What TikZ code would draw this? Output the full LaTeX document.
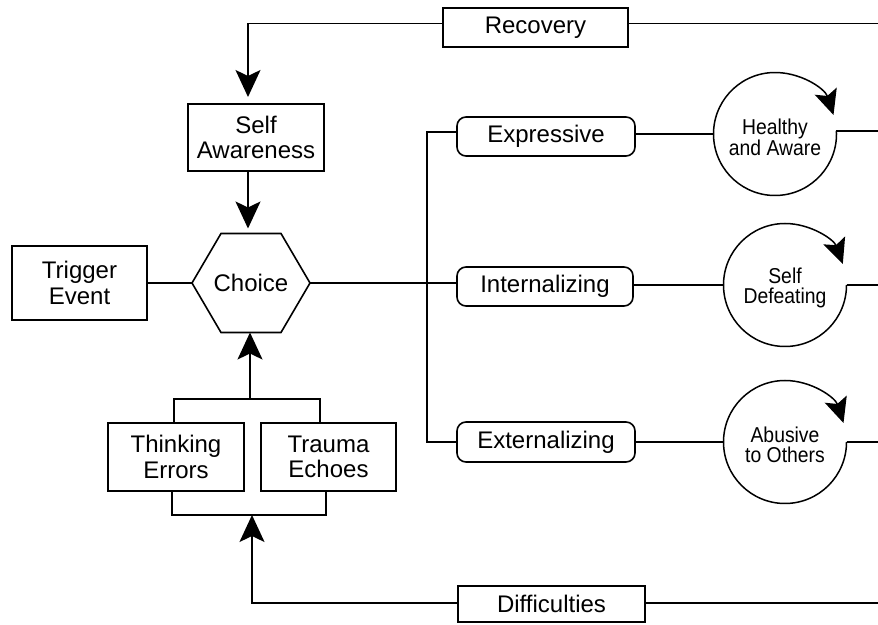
\documentclass[tikz,border=0pt]{standalone}
\usepackage{fontspec}
\setmainfont{Liberation Sans}
\newfontfamily\circlefont[FakeStretch=0.9]{Liberation Sans}
\usetikzlibrary{arrows.meta}

\begin{document}
\begin{tikzpicture}[x=1pt,y=1pt,
  line width=1.5pt,
  box/.style={draw, rectangle, inner sep=0pt, outer sep=0pt, align=center,
    line width=1.6pt, font=\fontsize{24}{25.5}\selectfont},
  rbox/.style={box, rounded corners=9pt},
  loop/.style={circle, inner sep=0pt, outer sep=0pt, minimum size=123},
  looplabel/.style={align=center, font=\circlefont\fontsize{21.5}{19.5}\selectfont},
  bigarrow/.style={-{Stealth[length=27pt,width=25pt,inset=6pt]}},
  smallarrow/.style={-{Stealth[length=25pt,width=23pt,inset=5pt]}},
]
\useasboundingbox (0,0) rectangle (878,624);

% right-hand edge the feedback lines run out to
\coordinate (edge) at (878,0);

% boxes
\node[box, minimum width=185, minimum height=39] (rec) at (535.5,596.5) {Recovery};
\node[box, minimum width=136, minimum height=67] (self) at (256,486.5) {Self\\Awareness};
\node[box, minimum width=135, minimum height=74] (trig) at (79.5,341) {Trigger\\Event};
\node[rbox, minimum width=178, minimum height=39] (expr) at (546,487.5) {Expressive};
\node[rbox, minimum width=176, minimum height=39] (intl) at (545,337.5) {Internalizing};
\node[rbox, minimum width=178, minimum height=40] (extl) at (546,182) {Externalizing};
\node[box, minimum width=136, minimum height=68] (think) at (176,167) {Thinking\\Errors};
\node[box, minimum width=135, minimum height=68] (trauma) at (328.5,167) {Trauma\\Echoes};
\node[box, minimum width=187, minimum height=36] (diff) at (551.5,20) {Difficulties};

% the hexagonal decision node
\node[minimum width=118, minimum height=99, inner sep=0pt, outer sep=0pt,
  font=\fontsize{24}{25.5}\selectfont] (choice) at (251,341) {Choice};
\draw[line width=1.6pt] (choice.west) -- ([xshift=29]choice.north west)
  -- ([xshift=-29]choice.north east) -- (choice.east)
  -- ([xshift=-29]choice.south east) -- ([xshift=29]choice.south west) -- cycle;

% outcome loops
\node[loop] (c1) at (775,490) {};
\node[loop] (c2) at (785,339) {};
\node[loop] (c3) at (785,182) {};
\node[looplabel] at ([yshift=-3]c1) {Healthy\\and Aware};
\node[looplabel] at ([yshift=-3]c2) {Self\\Defeating};
\node[looplabel] at ([yshift=-3]c3) {Abusive\\to Others};
\draw[smallarrow] (c1.3) arc[start angle=3, end angle=-342, radius=61.5];
\draw[smallarrow] (c2.0) arc[start angle=0, end angle=-340, radius=61.5];
\draw[smallarrow] (c3.0) arc[start angle=0, end angle=-342, radius=61.5];

% recovery feedback into self awareness
\draw[bigarrow, shorten >=7pt] ([yshift=4]rec.west) -| ([xshift=-8]self.north);
\draw ([yshift=4]rec.east) -- ([yshift=4]rec.east -| edge);
\draw[bigarrow, shorten >=5pt] ([xshift=-8]self.south) -- ([xshift=-8]self.south |- choice.north);

% trigger and choice
\draw (trig.east) -- (choice.west);
\draw (choice.east) -- (intl.west |- choice.east);

% branch bus
\coordinate (bustop) at (427,492);
\coordinate (busbot) at (427,182);
\draw (expr.west |- bustop) -- (bustop) -- (busbot) -- (extl.west);

% branches into loops and out to the edge
\draw (expr.east |- c1.west) -- (c1.west);
\draw (intl.east |- c2.west) -- (c2.west);
\draw (extl.east |- c3.west) -- (c3.west);
\draw (c1.3) -- (c1.3 -| edge);
\draw (c2.0) -- (c2.0 -| edge);
\draw (c3.0) -- (c3.0 -| edge);

% influences on choice
\coordinate (tb) at (250,225);
\draw ([xshift=-2]think.north) -- ++(0,24) -| ([xshift=-8.5]trauma.north);
\draw[bigarrow] (tb) -- (tb |- choice.south);
\coordinate (bb) at (252,109);
\draw ([xshift=-4]think.south) -- ++(0,-24) -| ([xshift=-2.5]trauma.south);

% difficulties feedback
\draw[bigarrow] ([yshift=1]diff.west) -| (bb);
\draw ([yshift=1]diff.east) -- ([yshift=1]diff.east -| edge);
\end{tikzpicture}
\end{document}
